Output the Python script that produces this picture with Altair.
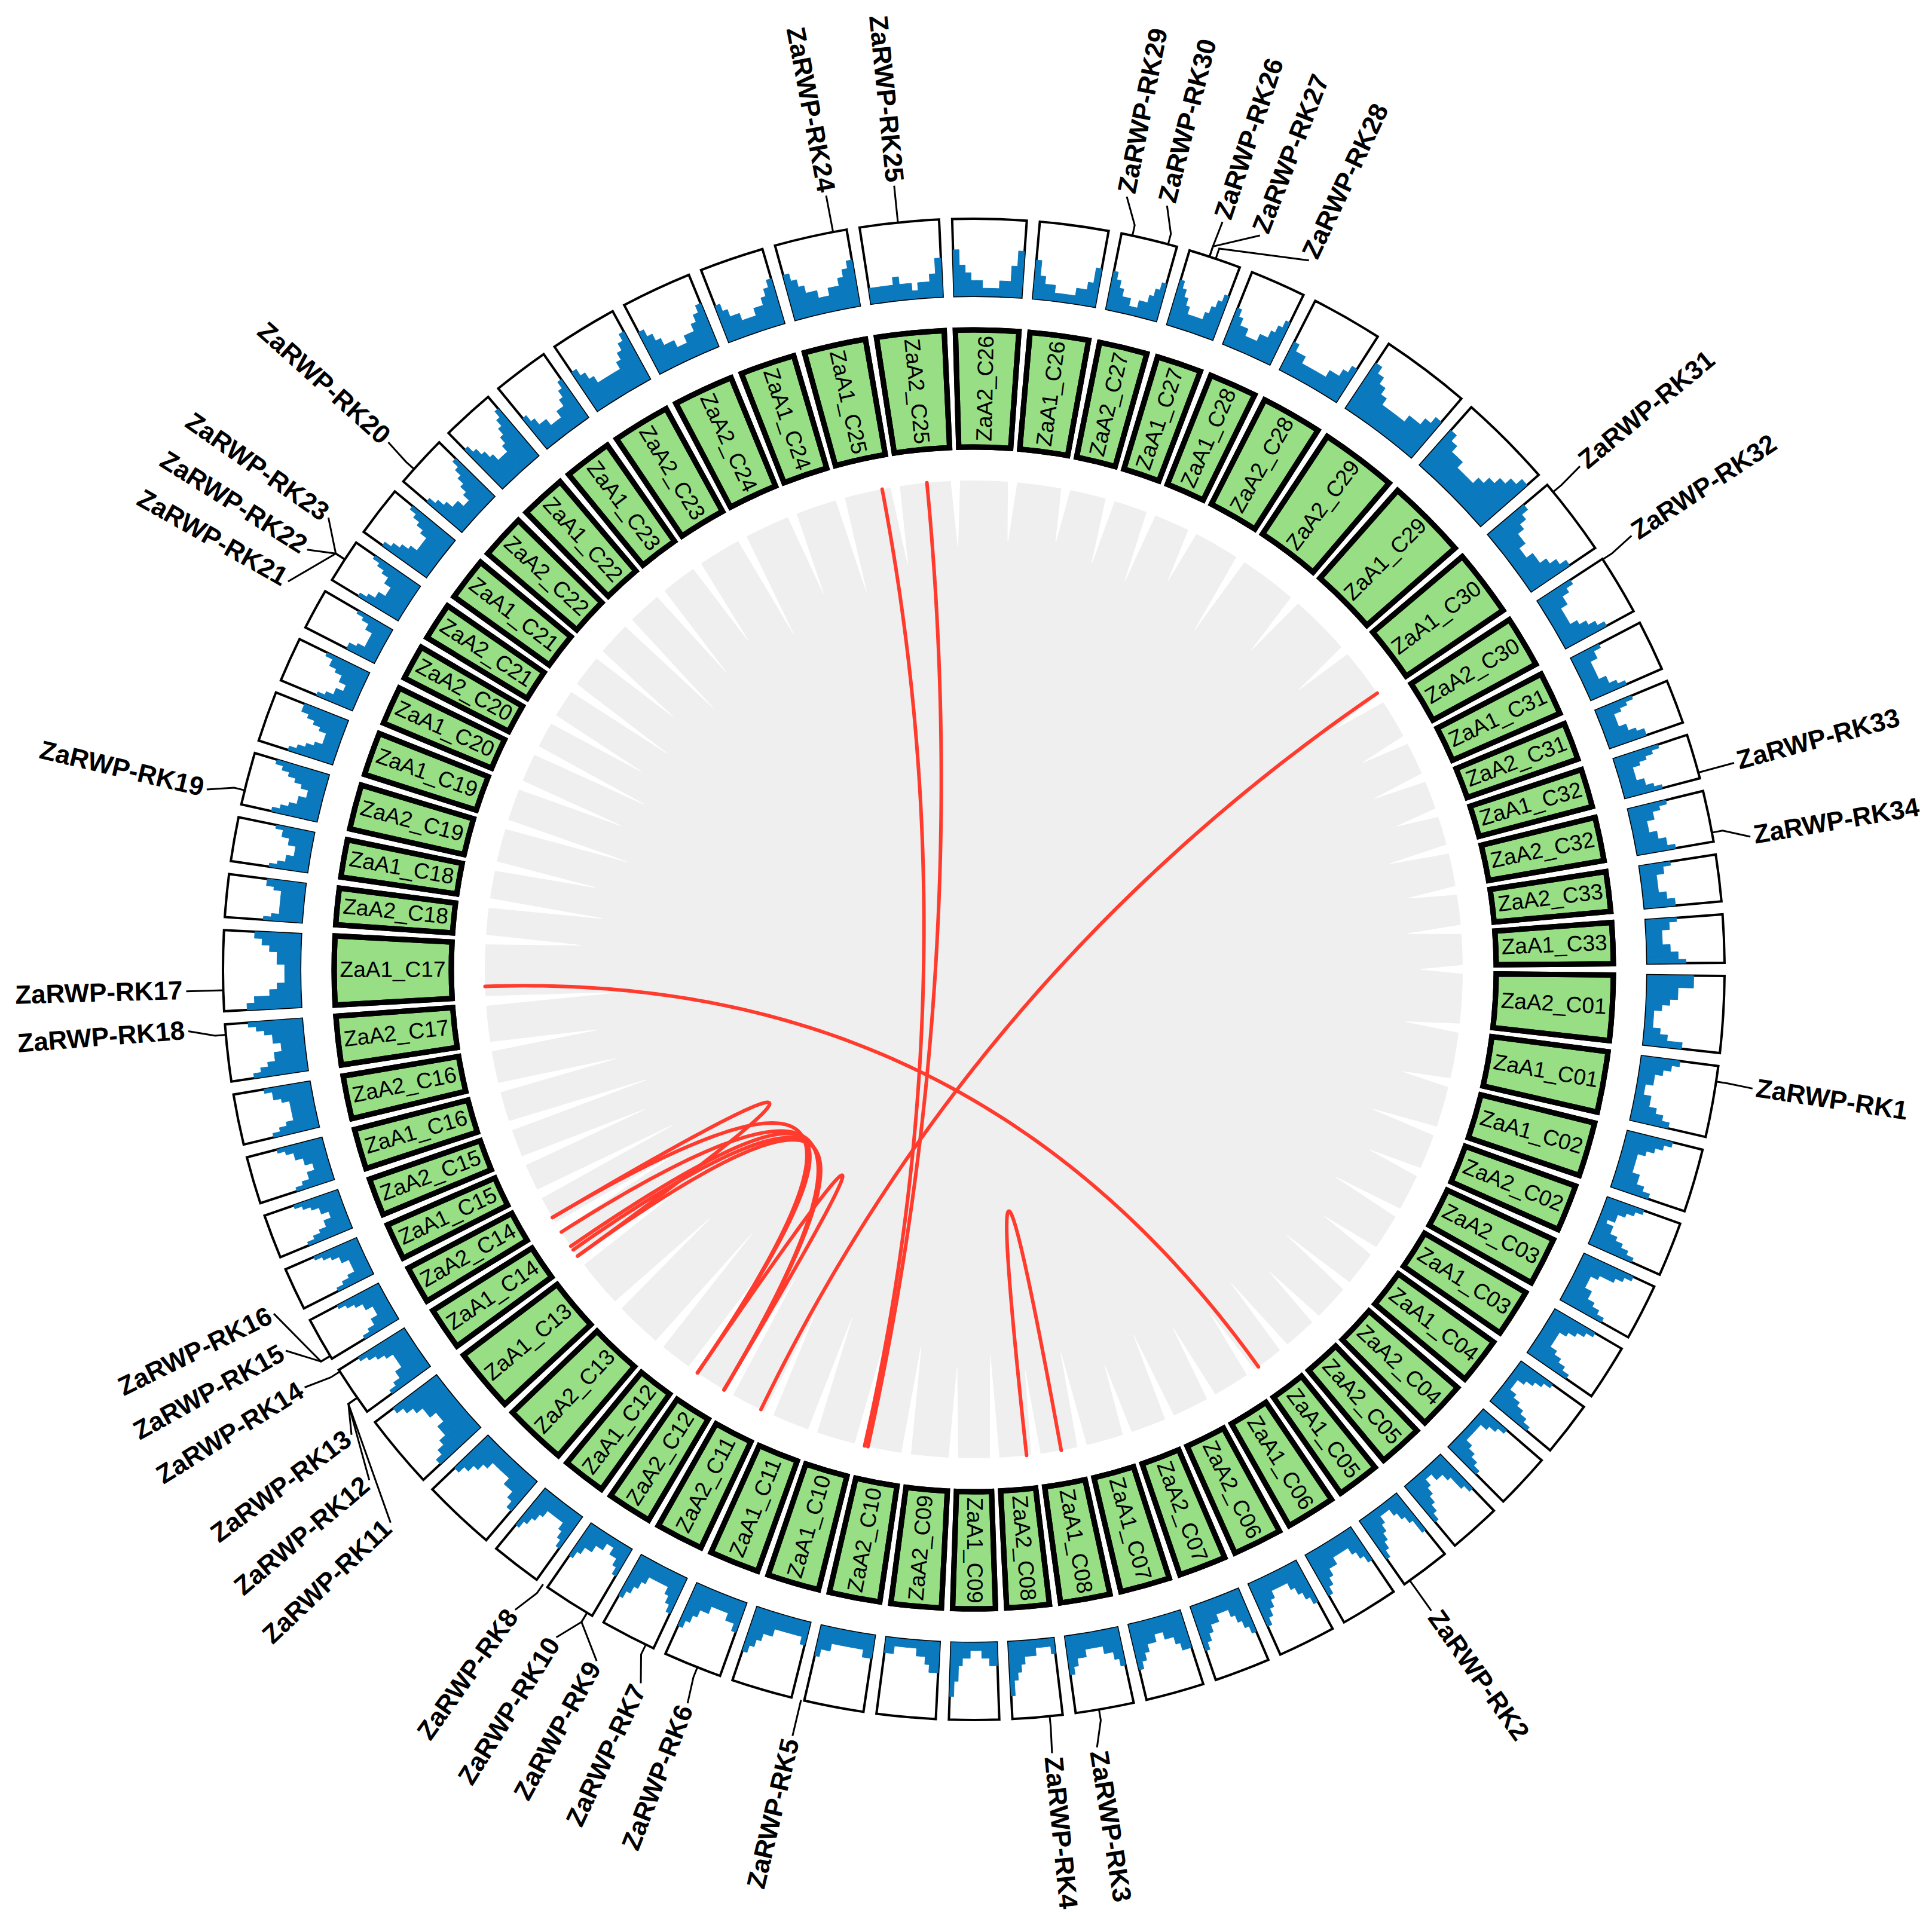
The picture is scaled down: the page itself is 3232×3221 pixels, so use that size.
import math
import altair as alt
import pandas as pd

# ---------------- data ----------------
chrom_names = ["ZaA2_C01", "ZaA1_C01", "ZaA1_C02", "ZaA2_C02", "ZaA2_C03", "ZaA1_C03", "ZaA1_C04", "ZaA2_C04", "ZaA2_C05", "ZaA1_C05",
               "ZaA1_C06", "ZaA2_C06", "ZaA2_C07", "ZaA1_C07", "ZaA1_C08", "ZaA2_C08", "ZaA1_C09", "ZaA2_C09", "ZaA2_C10", "ZaA1_C10",
               "ZaA1_C11", "ZaA2_C11", "ZaA2_C12", "ZaA1_C12", "ZaA2_C13", "ZaA1_C13", "ZaA1_C14", "ZaA2_C14", "ZaA1_C15", "ZaA2_C15",
               "ZaA1_C16", "ZaA2_C16", "ZaA2_C17", "ZaA1_C17", "ZaA2_C18", "ZaA1_C18", "ZaA2_C19", "ZaA1_C19", "ZaA1_C20", "ZaA2_C20",
               "ZaA2_C21", "ZaA1_C21", "ZaA2_C22", "ZaA1_C22", "ZaA1_C23", "ZaA2_C23", "ZaA2_C24", "ZaA1_C24", "ZaA1_C25", "ZaA2_C25",
               "ZaA2_C26", "ZaA1_C26", "ZaA2_C27", "ZaA1_C27", "ZaA1_C28", "ZaA2_C28", "ZaA2_C29", "ZaA1_C29", "ZaA1_C30", "ZaA2_C30",
               "ZaA1_C31", "ZaA2_C31", "ZaA1_C32", "ZaA2_C32", "ZaA2_C33", "ZaA1_C33"]

# chromosome sizes in circular-layout units (1 unit = 1 degree of the circle)
chrom_size = [5.9, 5.5, 4.9, 4.2, 4.35, 4.3, 4.2, 4.3, 4.0, 3.85,
              4.45, 4.45, 4.3, 4.5, 4.5, 3.85, 3.85, 4.55, 4.6, 4.7,
              4.5, 4.3, 4.05, 3.9, 5.65, 5.75, 3.85, 3.4, 3.3, 3.4,
              3.65, 3.9, 4.4, 6.2, 3.3, 3.4, 4.05, 3.9, 3.45, 3.15,
              3.4, 3.9, 4.05, 4.1, 4.35, 5.2, 5.45, 4.95, 5.6, 6.1,
              5.7, 5.3, 4.35, 4.05, 4.3, 5.5, 6.95, 7.3, 6.05, 4.65,
              3.9, 3.4, 3.45, 3.95, 3.6, 3.7]
chrom_gap = 1.0
layout_start = 90.5

# gene density per chromosome (12 bins, tenths of the track height)
density_bins = ["664432111235", "543221122345", "654322223345", "543221223456", "765322233456",
                "654322223456", "543211123456", "432111112345", "653221123456", "643211123456",
                "543222233456", "654322223456", "654322233456", "554332233456", "543322223345",
                "211112223457", "332211122357", "443221111122", "332222222334", "322222233456",
                "433222233456", "543222223456", "432211223345", "543222223456", "543322223456",
                "765443344567", "654433334567", "543322233456", "543222233456", "654332233456",
                "543322334456", "654333334556", "765443344567", "764322233456", "543333333455",
                "543322233445", "654332234567", "654322234566", "543322334556", "443222223345",
                "654433344567", "765433334567", "654332234567", "765433345678", "543322233456",
                "654333334567", "654332233456", "543322233456", "654332233456", "222232212235",
                "643221112246", "532211112235", "543221122345", "654322223456", "543322233456",
                "433222223345", "765433334456", "654433345678", "654332233456", "543322223456",
                "433222223345", "543222233455", "654322223345", "543322233445", "433222223344",
                "433222233445"]

# ZaRWP-RK genes: position on the circle, label position, label radius
gene_names = ["ZaRWP-RK%d" % i for i in range(1, 35)]
gene_pos = [98.6, 144.5, 170.4, 174.2, 193.3, 201.6, 205.9, 215.0, 211.0, 211.0,
            235.2, 235.2, 235.2, 237.6, 239.0, 239.0, 268.4, 265.0, 283.8, 311.8,
            303.1, 303.1, 303.1, 349.2, 354.2, 18.3, 18.3, 18.8, 12.2, 15.0,
            50.5, 56.9, 74.8, 79.5]
label_pos = [98.7, 144.5, 171.0, 174.3, 193.3, 201.3, 205.0, 215.6, 208.6, 212.0,
             226.5, 229.8, 233.2, 238.0, 241.0, 243.8, 268.4, 265.5, 283.2, 312.0,
             299.5, 302.2, 305.0, 349.2, 354.2, 18.4, 21.3, 25.3, 11.2, 14.2,
             50.3, 56.6, 74.8, 80.3]
label_radius = [1318, 1318, 1318, 1318, 1318, 1318, 1318, 1318, 1318, 1318,
                1345, 1324, 1300, 1320, 1316, 1305, 1318, 1318, 1318, 1318,
                1318, 1318, 1318, 1318, 1318, 1318, 1318, 1312, 1318, 1318,
                1318, 1318, 1318, 1318]

# collinear gene pairs (positions on the circle)
link_from = [349.2, 354.5, 268.0, 55.6, 173.8, 239.5, 237.5, 235.5, 235.0, 234.1, 239.5, 214.4]
link_to = [192.9, 192.5, 144.4, 205.8, 169.7, 214.4, 210.7, 214.4, 210.7, 210.7, 234.1, 210.7]

# depth of the white (unlinked) wedges at each chromosome gap
gap_depth = [90, 80, 110, 90, 120, 100, 130, 110, 140, 120,
             130, 150, 120, 160, 140, 170, 150, 180, 160, 200,
             180, 220, 200, 240, 210, 260, 230, 250, 220, 240,
             200, 180, 220, 160, 190, 170, 210, 180, 200, 170,
             190, 160, 200, 170, 150, 180, 140, 160, 130, 110,
             100, 90, 110, 120, 90, 140, 110, 100, 90, 80,
             90, 70, 100, 80, 90, 70]

# ---------------- geometry ----------------
W, H = 3216, 3205
CX, CY = 1621, 1614
R_LINK = 818
R_CHR_IN, R_CHR_OUT = 874, 1070
R_DEN_IN, R_DEN_OUT = 1127, 1256

FONT = "Liberation Sans"
GREEN = "#98DE84"
BLUE = "#0B79BD"
RED = "#FF3B2E"
GRAY = "#EFEFEF"


def polar(theta_deg, r):
    t = math.radians(theta_deg)
    return r * math.sin(t), r * math.cos(t)


def upright(theta):
    t = theta % 360
    return (t - 90) % 360 if t < 180 else (t - 270) % 360


xs = alt.Scale(domain=[-CX, W - CX], nice=False, zero=False)
ys = alt.Scale(domain=[CY - H, CY], nice=False, zero=False)
ts = alt.Scale(type="linear", domain=[0, 360], range=[0, 2 * math.pi], nice=False, zero=False)
rs = alt.Scale(type="linear", domain=[0, 1400], range=[0, 1400], nice=False, zero=False)

X = alt.X("cx:Q", scale=xs, axis=None)
Y = alt.Y("cy:Q", scale=ys, axis=None)

# chromosome table
rows = []
pos = layout_start
for name, size in zip(chrom_names, chrom_size):
    rows.append(dict(name=name, t0=pos, t1=pos + size, mid=pos + size / 2,
                     rot=upright(pos + size / 2), cx=0, cy=0,
                     r0=R_CHR_IN, r1=R_CHR_OUT, rm=(R_CHR_IN + R_CHR_OUT) / 2,
                     d0=R_DEN_IN, d1=R_DEN_OUT))
    pos += size + chrom_gap
chrom_df = pd.DataFrame(rows)

# density bars
bars = []
for row, prof in zip(rows, density_bins):
    n = len(prof)
    w = (row["t1"] - row["t0"]) / n
    for k, ch in enumerate(prof):
        v = int(ch) / 10.0
        bars.append(dict(t0=row["t0"] + k * w, t1=row["t0"] + (k + 1) * w, cx=0, cy=0,
                         r0=R_DEN_IN, r1=R_DEN_IN + v * (R_DEN_OUT - R_DEN_IN)))
bar_df = pd.DataFrame(bars)

# gray ribbon disk
disk_df = pd.DataFrame([dict(t0=0, t1=360, r0=0, r1=R_LINK, cx=0, cy=0)])

# white wedges at chromosome gaps
wedges = []
for i, (row, depth) in enumerate(zip(rows, gap_depth)):
    g = row["t1"] + chrom_gap / 2
    x0, y0 = polar(g, R_LINK + 10)
    x1, y1 = polar(g, R_LINK - depth)
    wedges.append(dict(id=i, k=0, x=x0, y=y0, w=17))
    wedges.append(dict(id=i, k=1, x=x1, y=y1, w=0))
wedge_df = pd.DataFrame(wedges)

# links: quadratic Bezier through the centre
lk = []
for i, (a, b) in enumerate(zip(link_from, link_to)):
    x0, y0 = polar(a, R_LINK)
    x2, y2 = polar(b, R_LINK)
    for k in range(101):
        t = k / 100
        lk.append(dict(id=i, k=k, x=(1 - t) ** 2 * x0 + t ** 2 * x2, y=(1 - t) ** 2 * y0 + t ** 2 * y2))
link_df = pd.DataFrame(lk)

# label leaders and texts
lead = []
labs = []
for i, (nm, gp, lp, lr) in enumerate(zip(gene_names, gene_pos, label_pos, label_radius)):
    for k, (th, r) in enumerate([(gp, R_DEN_OUT), (gp, R_DEN_OUT + 18), (lp, lr)]):
        x, y = polar(th, r)
        lead.append(dict(id=i, k=k, x=x, y=y))
    labs.append(dict(name=nm, th=lp, r=lr + 6, rot=upright(lp), side="R" if (lp % 360) < 180 else "L",
                     cx=0, cy=0))
lead_df = pd.DataFrame(lead)
lab_df = pd.DataFrame(labs)


def arc_enc():
    return dict(x=X, y=Y,
                theta=alt.Theta("t0:Q", scale=ts, stack=False), theta2="t1:Q",
                radius=alt.Radius("r0:Q", scale=rs), radius2="r1:Q")


disk = alt.Chart(disk_df).mark_arc(color=GRAY).encode(**arc_enc())

wedge = alt.Chart(wedge_df).mark_trail(color="white").encode(
    x=alt.X("x:Q", scale=xs, axis=None), y=alt.Y("y:Q", scale=ys, axis=None),
    size=alt.Size("w:Q", scale=None, legend=None), detail="id:N", order="k:Q")

links = alt.Chart(link_df).mark_line(color=RED, strokeWidth=6, strokeCap="round").encode(
    x=alt.X("x:Q", scale=xs, axis=None), y=alt.Y("y:Q", scale=ys, axis=None),
    detail="id:N", order="k:Q")

blocks = alt.Chart(chrom_df).mark_arc(color=GREEN, stroke="black", strokeWidth=9).encode(**arc_enc())

chr_text = alt.Chart(chrom_df).mark_text(font=FONT, fontSize=37, align="center", baseline="middle",
                                          color="black").encode(
    x=X, y=Y, theta=alt.Theta("mid:Q", scale=ts, stack=False), radius=alt.Radius("rm:Q", scale=rs),
    angle=alt.Angle("rot:Q", scale=None), text="name:N")

block_edge = alt.Chart(chrom_df).mark_arc(fillOpacity=0, stroke="black", strokeWidth=9).encode(**arc_enc())

dens_box = alt.Chart(chrom_df).mark_arc(color="white", stroke="black", strokeWidth=4).encode(
    x=X, y=Y, theta=alt.Theta("t0:Q", scale=ts, stack=False), theta2="t1:Q",
    radius=alt.Radius("d0:Q", scale=rs), radius2="d1:Q")

dens_bar = alt.Chart(bar_df).mark_arc(color=BLUE, stroke=BLUE, strokeWidth=1).encode(**arc_enc())

leaders = alt.Chart(lead_df).mark_line(color="black", strokeWidth=3).encode(
    x=alt.X("x:Q", scale=xs, axis=None), y=alt.Y("y:Q", scale=ys, axis=None),
    detail="id:N", order="k:Q")


def gene_text(side, align):
    return alt.Chart(lab_df[lab_df.side == side]).mark_text(
        font=FONT, fontSize=44, fontWeight="bold", align=align, baseline="middle", color="black").encode(
        x=X, y=Y, theta=alt.Theta("th:Q", scale=ts, stack=False), radius=alt.Radius("r:Q", scale=rs),
        angle=alt.Angle("rot:Q", scale=None), text="name:N")


chart = alt.layer(
    disk, wedge, links, blocks, chr_text, block_edge, dens_box, dens_bar, leaders,
    gene_text("R", "left"), gene_text("L", "right")
).properties(
    width=W, height=H, padding=0, autosize=alt.AutoSizeParams(type="none"), background="white"
).configure_view(stroke=None)

chart.save("out.html", embed_options={"renderer": "svg", "actions": False})
